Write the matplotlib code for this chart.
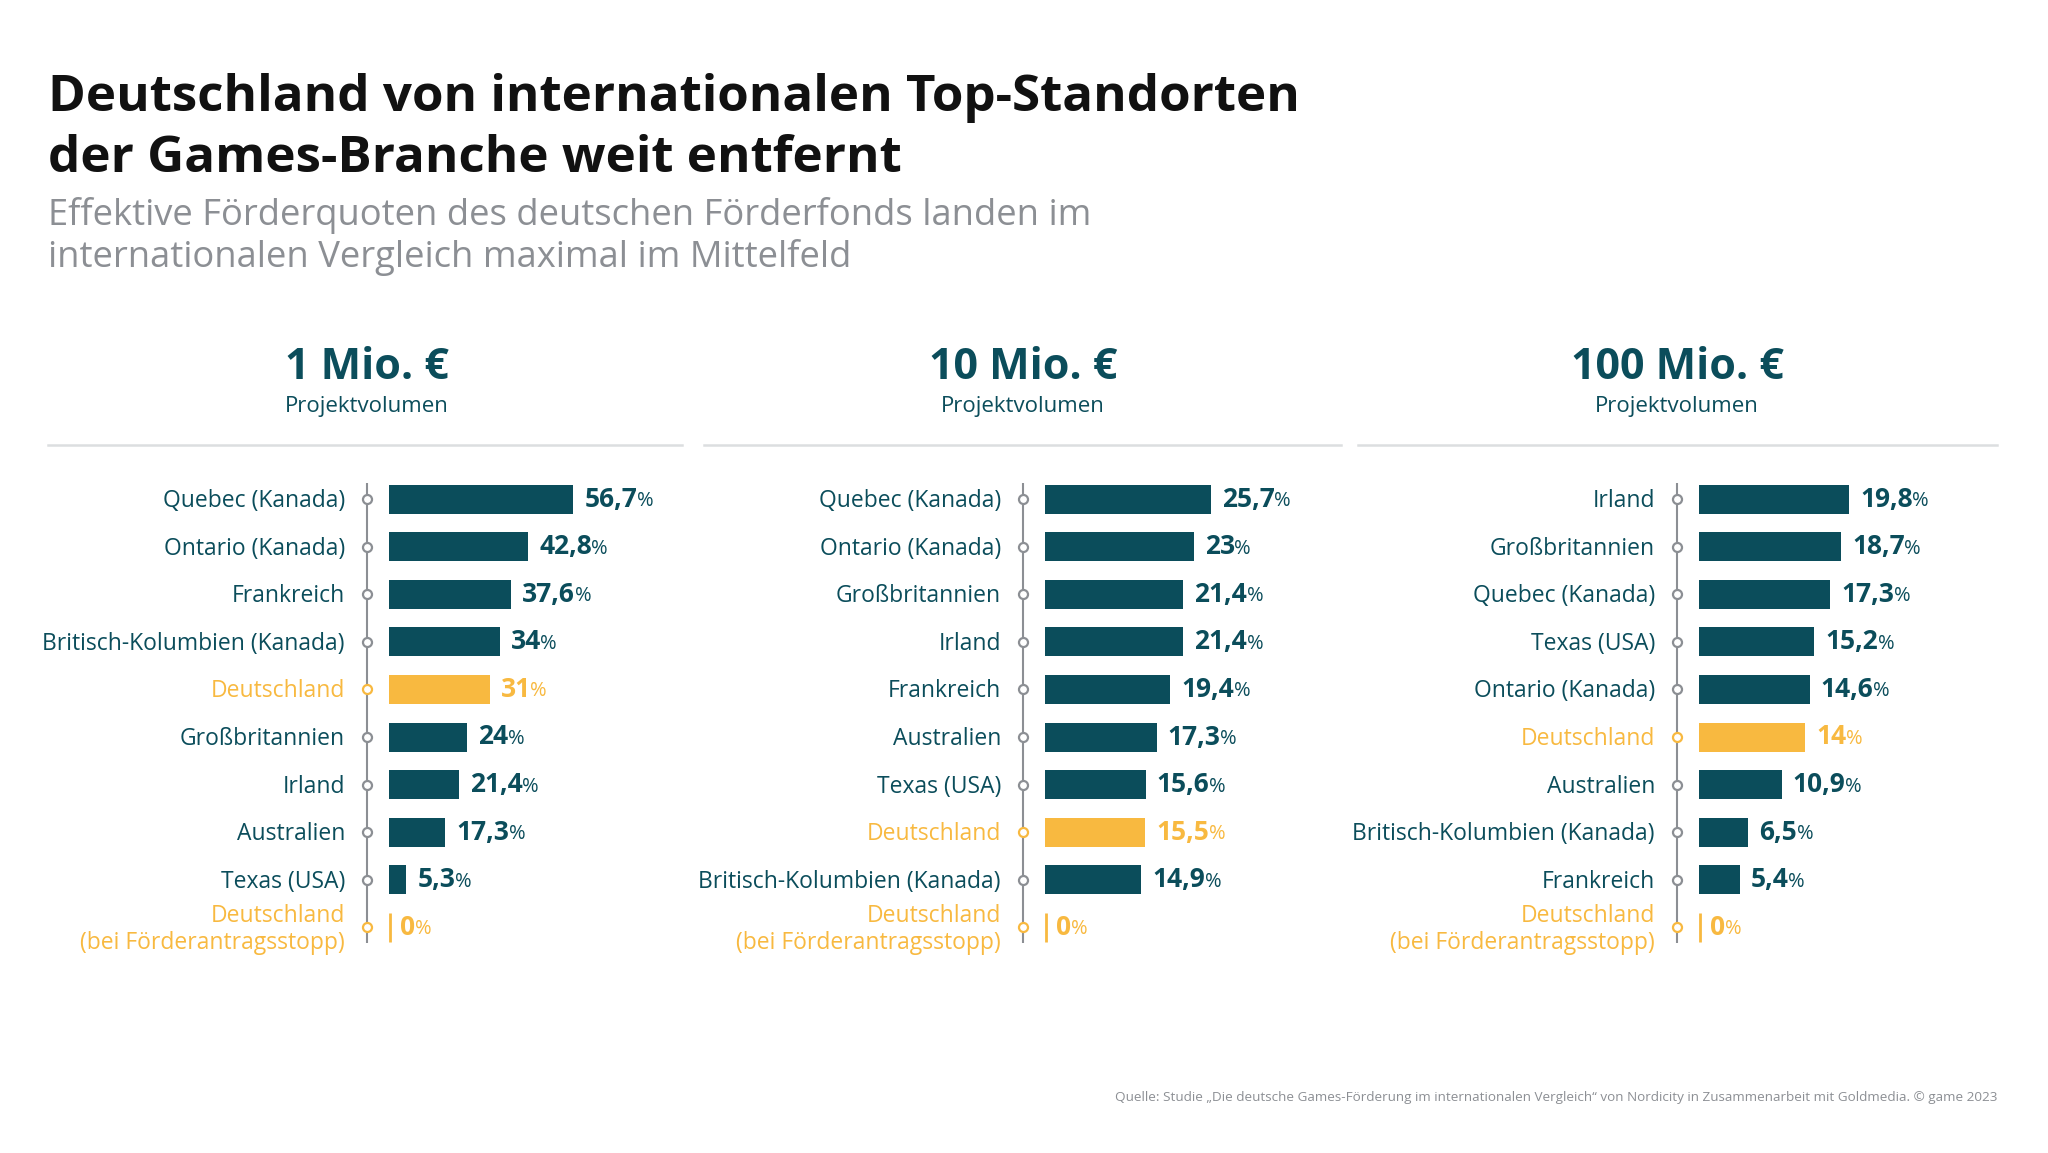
import matplotlib
matplotlib.use("Agg")
import matplotlib.pyplot as plt
from matplotlib.lines import Line2D

plt.rcParams["font.family"] = ["Open Sans", "DejaVu Sans"]

TEAL = "#0b4d5b"
YELLOW = "#f8b940"
GRAY = "#8c8f94"
RULE = "#dcdee0"

W, H = 2048, 1153

TITLE_1 = "Deutschland von internationalen Top-Standorten"
TITLE_2 = "der Games-Branche weit entfernt"
SUBTITLE_1 = "Effektive Förderquoten des deutschen Förderfonds landen im"
SUBTITLE_2 = "internationalen Vergleich maximal im Mittelfeld"
SOURCE = ("Quelle: Studie \u201eDie deutsche Games-Förderung im internationalen Vergleich\u201c "
          "von Nordicity in Zusammenarbeit mit Goldmedia. © game 2023")

volumes = ["1 Mio. €", "10 Mio. €", "100 Mio. €"]
STOP_LABEL = "Deutschland\n(bei Förderantragsstopp)"

labels_1m = ["Quebec (Kanada)", "Ontario (Kanada)", "Frankreich",
             "Britisch-Kolumbien (Kanada)", "Deutschland", "Großbritannien",
             "Irland", "Australien", "Texas (USA)", STOP_LABEL]
values_1m = [56.7, 42.8, 37.6, 34, 31, 24, 21.4, 17.3, 5.3, 0]

labels_10m = ["Quebec (Kanada)", "Ontario (Kanada)", "Großbritannien", "Irland",
              "Frankreich", "Australien", "Texas (USA)", "Deutschland",
              "Britisch-Kolumbien (Kanada)", STOP_LABEL]
values_10m = [25.7, 23, 21.4, 21.4, 19.4, 17.3, 15.6, 15.5, 14.9, 0]

labels_100m = ["Irland", "Großbritannien", "Quebec (Kanada)", "Texas (USA)",
               "Ontario (Kanada)", "Deutschland", "Australien",
               "Britisch-Kolumbien (Kanada)", "Frankreich", STOP_LABEL]
values_100m = [19.8, 18.7, 17.3, 15.2, 14.6, 14, 10.9, 6.5, 5.4, 0]

panels = [(labels_1m, values_1m), (labels_10m, values_10m), (labels_100m, values_100m)]

# layout in pixels of the 2048x1153 canvas
bar_x0 = [389, 1045, 1699]
px_per_pct = [3.25, 6.46, 7.59]
rule_spans = [(48, 682), (704, 1341), (1358, 1997)]
row_y0, row_step = 499, 47.6
ax_top, ax_bottom, ax_width = 470, 960, 320


def fx(px):
    return px / W


def fy(py):
    return 1 - py / H


def fmt(v):
    return f"{v:g}".replace(".", ",")


def draw_panel(ax, labels, values, ppp):
    n = len(values)
    rows = list(range(n))
    colors = [YELLOW if lab.startswith("Deutschland") else TEAL for lab in labels]
    px = 1 / ppp  # one pixel in data units
    dy = 2 / row_step  # nudge text down a touch

    ax.set_xlim(0, ax_width * px)
    ax.set_ylim((ax_bottom - row_y0) / row_step, (ax_top - row_y0) / row_step)
    ax.axis("off")

    # vertical guide with hollow markers
    line_x = -22 * px
    ax.plot([line_x, line_x], [(483 - row_y0) / row_step, (943 - row_y0) / row_step],
            color=GRAY, lw=1.5, clip_on=False, zorder=1, solid_capstyle="butt")
    for r, c in zip(rows, colors):
        ax.plot(line_x, r, marker="o", ms=6.5, mfc="white", mec=GRAY if c == TEAL else YELLOW,
                mew=1.6, clip_on=False, zorder=2)

    bar_h = 29 / row_step
    for r, v, c, lab in zip(rows, values, colors, labels):
        if v > 0:
            ax.barh(r, v, height=bar_h, color=c, left=0, zorder=2)
            x_end = v
        else:
            ax.plot([1.2 * px, 1.2 * px], [r - bar_h / 2, r + bar_h / 2], color=c, lw=2,
                    solid_capstyle="butt", clip_on=False)
            x_end = 0
        num = ax.text(x_end + 11 * px, r, fmt(v), ha="left", va="center",
                      fontsize=19, fontweight="bold", color=c, clip_on=False)
        ax.annotate("%", xy=(1, 0), xycoords=num, xytext=(-0.3, 1.1),
                    textcoords="offset points", ha="left", va="bottom",
                    fontsize=14.5, color=c, annotation_clip=False)
        ax.text(-44 * px, r + dy, lab, ha="right", va="center", fontsize=16.5,
                fontweight="medium", color=c, linespacing=1.2, clip_on=False)


fig = plt.figure(figsize=(W / 100, H / 100), dpi=100)
fig.patch.set_facecolor("white")

fig.text(fx(48), fy(111), TITLE_1, fontsize=36.8, fontweight="bold", color="#111111",
         va="baseline", ha="left")
fig.text(fx(48), fy(172), TITLE_2, fontsize=36.8, fontweight="bold", color="#111111",
         va="baseline", ha="left")
fig.text(fx(48), fy(225), SUBTITLE_1, fontsize=26.2, color=GRAY,
         va="baseline", ha="left")
fig.text(fx(48), fy(267), SUBTITLE_2, fontsize=26.2, color=GRAY,
         va="baseline", ha="left")

for k, (labels, values) in enumerate(panels):
    x0 = bar_x0[k]
    centre = x0 - 22
    fig.text(fx(centre), fy(379), volumes[k], fontsize=31, fontweight="bold", color=TEAL,
             ha="center", va="baseline")
    fig.text(fx(centre), fy(412), "Projektvolumen", fontsize=16, fontweight="medium",
             color=TEAL, ha="center", va="baseline")
    a, b = rule_spans[k]
    fig.add_artist(Line2D([fx(a), fx(b)], [fy(445), fy(445)], color=RULE, lw=1.8))

    ax = fig.add_axes([fx(x0), fy(ax_bottom), ax_width / W, (ax_bottom - ax_top) / H])
    draw_panel(ax, labels, values, px_per_pct[k])

fig.text(fx(1997), fy(1097), SOURCE, fontsize=9.7, color=GRAY, ha="right", va="center")

fig.savefig("out.png", dpi=100, facecolor="white")
